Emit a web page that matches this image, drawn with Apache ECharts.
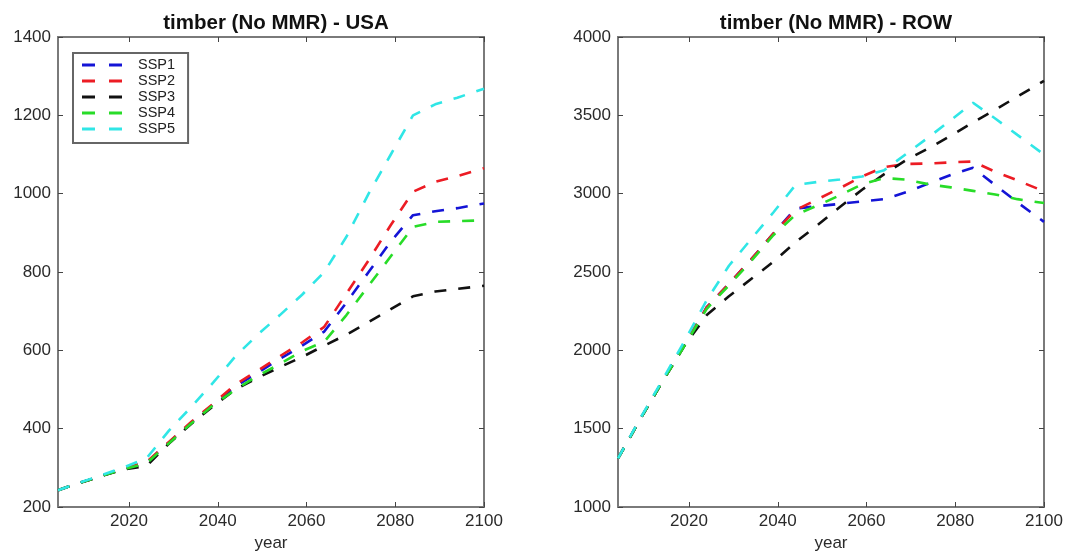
<!DOCTYPE html>
<html>
<head>
<meta charset="utf-8">
<script src="https://cdn.jsdelivr.net/npm/echarts@6/dist/echarts.min.js"></script>
<style>
html,body{margin:0;padding:0;background:#fff;}
#c{width:1068px;height:552px;}
</style>
</head>
<body>
<div id="c"></div>
<script>
// ---- data ----
const years = [2004, 2009, 2014, 2019, 2024, 2029, 2034, 2039, 2044, 2049, 2054, 2059, 2064, 2069, 2074, 2079, 2084, 2089, 2094, 2100];
const scenarios = ['SSP1', 'SSP2', 'SSP3', 'SSP4', 'SSP5'];
const xTicks = [2020, 2040, 2060, 2080, 2100];

// USA
const usaSSP1 = [243, 262, 280, 298, 314, 365, 415, 462, 508, 543, 578, 612, 648, 722, 800, 878, 945, 955, 963, 975];
const usaSSP2 = [243, 262, 280, 298, 315, 366, 417, 464, 513, 548, 585, 620, 660, 745, 830, 920, 1005, 1030, 1045, 1065];
const usaSSP3 = [243, 262, 280, 296, 305, 362, 412, 458, 500, 530, 557, 583, 612, 640, 672, 705, 738, 750, 757, 765];
const usaSSP4 = [243, 262, 280, 297, 312, 363, 413, 460, 500, 535, 565, 598, 622, 690, 765, 840, 915, 928, 930, 932];
const usaSSP5 = [243, 263, 282, 302, 325, 395, 455, 518, 585, 640, 690, 742, 800, 890, 1000, 1100, 1200, 1228, 1245, 1268];

// ROW
const rowSSP1 = [1310, 1560, 1800, 2035, 2275, 2425, 2580, 2745, 2905, 2920, 2935, 2950, 2965, 3010, 3065, 3120, 3165, 3055, 2945, 2820];
const rowSSP2 = [1310, 1560, 1800, 2035, 2275, 2425, 2580, 2745, 2895, 2965, 3035, 3110, 3170, 3190, 3192, 3200, 3205, 3140, 3085, 3015];
const rowSSP3 = [1310, 1560, 1800, 2030, 2225, 2345, 2455, 2565, 2690, 2800, 2915, 3025, 3125, 3215, 3290, 3370, 3455, 3535, 3620, 3720];
const rowSSP4 = [1310, 1560, 1800, 2030, 2265, 2415, 2570, 2735, 2865, 2925, 2990, 3060, 3100, 3090, 3060, 3040, 3018, 2995, 2965, 2940];
const rowSSP5 = [1310, 1565, 1810, 2060, 2320, 2540, 2710, 2880, 3055, 3075, 3090, 3110, 3150, 3255, 3360, 3470, 3580, 3480, 3375, 3250];

const usaData = [usaSSP1, usaSSP2, usaSSP3, usaSSP4, usaSSP5];
const rowData = [rowSSP1, rowSSP2, rowSSP3, rowSSP4, rowSSP5];
const colors = ['#1414d6', '#ec1c24', '#111111', '#28dc28', '#30e6e6'];

// ---- chart ----
const chart = echarts.init(document.getElementById('c'), null, {renderer: 'canvas'});
const FONT = 'Liberation Sans, Arial, Helvetica, sans-serif';
const txt = '#2a2a2a';
const frame = '#7a7a7a';
const plain = v => String(v);

function pairs(vals) { return years.map((y, i) => [y, vals[i]]); }

function xAx(gi, pos, labels) {
  return {
    type: 'value', gridIndex: gi, position: pos, min: 2004, max: 2100,
    axisLine: {show: false},
    splitLine: {show: false},
    axisTick: {show: true, inside: true, length: 5, customValues: xTicks, lineStyle: {color: '#444', width: 1}},
    axisLabel: {show: labels, customValues: xTicks, formatter: plain, color: txt, fontSize: 17, fontFamily: FONT, margin: 6},
    name: labels ? 'year' : '', nameLocation: 'middle', nameGap: 28,
    nameTextStyle: {color: txt, fontSize: 17, fontFamily: FONT}
  };
}
function yAx(gi, pos, labels, mn, mx, step) {
  return {
    type: 'value', gridIndex: gi, position: pos, min: mn, max: mx, interval: step,
    axisLine: {show: false},
    splitLine: {show: false},
    axisTick: {show: true, inside: true, length: 5, lineStyle: {color: '#444', width: 1}},
    axisLabel: {show: labels, formatter: plain, color: txt, fontSize: 17, fontFamily: FONT, margin: 7}
  };
}

const series = [];
scenarios.forEach((name, i) => {
  series.push({
    name: name, type: 'line', xAxisIndex: 0, yAxisIndex: 0,
    data: pairs(usaData[i]), symbol: 'none', silent: true, animation: false,
    lineStyle: {color: colors[i], width: 2.6, type: [12, 12], cap: 'butt'},
    itemStyle: {color: colors[i]}
  });
});
scenarios.forEach((name, i) => {
  series.push({
    name: name, type: 'line', xAxisIndex: 2, yAxisIndex: 2,
    data: pairs(rowData[i]), symbol: 'none', silent: true, animation: false,
    lineStyle: {color: colors[i], width: 2.6, type: [12, 12], cap: 'butt'},
    itemStyle: {color: colors[i]}
  });
});

const option = {
  backgroundColor: '#fff',
  animation: false,
  title: [
    {text: 'timber (No MMR) - USA', left: 271, top: 8, textAlign: 'center',
     textStyle: {fontSize: 20.5, fontWeight: 'bold', color: '#111', fontFamily: FONT}},
    {text: 'timber (No MMR) - ROW', left: 831, top: 8, textAlign: 'center',
     textStyle: {fontSize: 20.5, fontWeight: 'bold', color: '#111', fontFamily: FONT}}
  ],
  grid: [
    {left: 58, right: 584, top: 37, bottom: 45, show: true, borderColor: frame, borderWidth: 2, backgroundColor: '#fff', outerBoundsMode: 'none', containLabel: false},
    {left: 618, right: 24, top: 37, bottom: 45, show: true, borderColor: frame, borderWidth: 2, backgroundColor: '#fff', outerBoundsMode: 'none', containLabel: false}
  ],
  xAxis: [xAx(0, 'bottom', true), xAx(0, 'top', false), xAx(1, 'bottom', true), xAx(1, 'top', false)],
  yAxis: [yAx(0, 'left', true, 200, 1400, 200), yAx(0, 'right', false, 200, 1400, 200),
          yAx(1, 'left', true, 1000, 4000, 500), yAx(1, 'right', false, 1000, 4000, 500)],
  legend: {
    data: scenarios, orient: 'vertical', left: 73, top: 53,
    backgroundColor: '#fff', borderColor: '#666', borderWidth: 2,
    padding: [4, 13, 6, 9], itemGap: 0, itemWidth: 40, itemHeight: 3,
    icon: 'path://M0,0h13v3h-13z M27,0h13v3h-13z',
    selectedMode: false,
    textStyle: {color: '#222', fontSize: 14.5, fontFamily: FONT, lineHeight: 16, padding: [0, 0, 0, 11]}
  },
  series: series
};
chart.setOption(option);
</script>
</body>
</html>
